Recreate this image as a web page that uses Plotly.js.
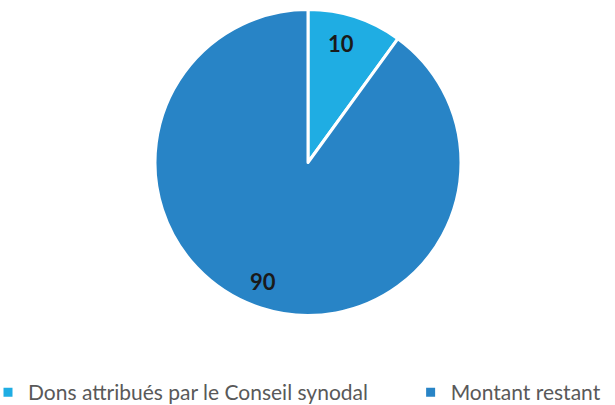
<!DOCTYPE html>
<html>
<head>
<meta charset="utf-8">
<script src="https://cdn.plot.ly/plotly-3.0.1.min.js"></script>
<style>html,body{margin:0;padding:0;background:#fff;overflow:hidden;}#chart{width:615px;height:405px;}</style>
</head>
<body>
<div id="chart"></div>
<script>
const categories = ["Dons attribués par le Conseil synodal", "Montant restant"];
const values = [10, 90];
const colors = ["#1FADE3", "#2884C6"];

const W = 615, H = 405;
const pieCx = 308, pieCy = 162.5, pieR = 153;   // pixel geometry of the pie
const labelK = 0.82;                             // label distance as share of radius
const legendPad = "\u00A0".repeat(7);            // extra gap between legend entries

const trace = {
  type: "pie",
  labels: categories.map((c, i) => i < categories.length - 1 ? c + legendPad : c),
  values: values,
  sort: false,
  direction: "clockwise",
  rotation: 0,
  marker: {colors: colors, line: {color: "#ffffff", width: 3}},
  textinfo: "none",
  hoverinfo: "none",
  domain: {x: [(pieCx - pieR)/W, (pieCx + pieR)/W], y: [(H - pieCy - pieR)/H, (H - pieCy + pieR)/H]}
};

// data labels placed along each slice's mid-angle (computed from the values)
const total = values.reduce((a, b) => a + b, 0);
let cum = 0;
const annotations = values.map(v => {
  const f = (cum + v / 2) / total;
  cum += v;
  const th = 2 * Math.PI * f;
  const dx = pieR * labelK * Math.sin(th);
  const dy = pieR * labelK * Math.cos(th);
  return {
    text: String(v), showarrow: false, xref: "paper", yref: "paper",
    x: (pieCx + dx) / W, y: (H - pieCy + dy) / H, xanchor: "center", yanchor: "middle",
    xshift: -6,
    font: {family: "Lato", size: 22, color: "#1a1a1a", weight: "bold"}
  };
});

const layout = {
  width: W, height: H,
  margin: {l: 0, r: 0, t: 0, b: 0, autoexpand: false},
  paper_bgcolor: "#ffffff",
  showlegend: true,
  annotations: annotations,
  legend: {
    orientation: "h",
    x: -12 / W, xanchor: "left",
    y: -8 / H, yanchor: "bottom",
    font: {family: "Lato", size: 21, color: "#595959"},
    traceorder: "normal"
  }
};

Plotly.newPlot("chart", [trace], layout, {staticPlot: true});
</script>
</body>
</html>
